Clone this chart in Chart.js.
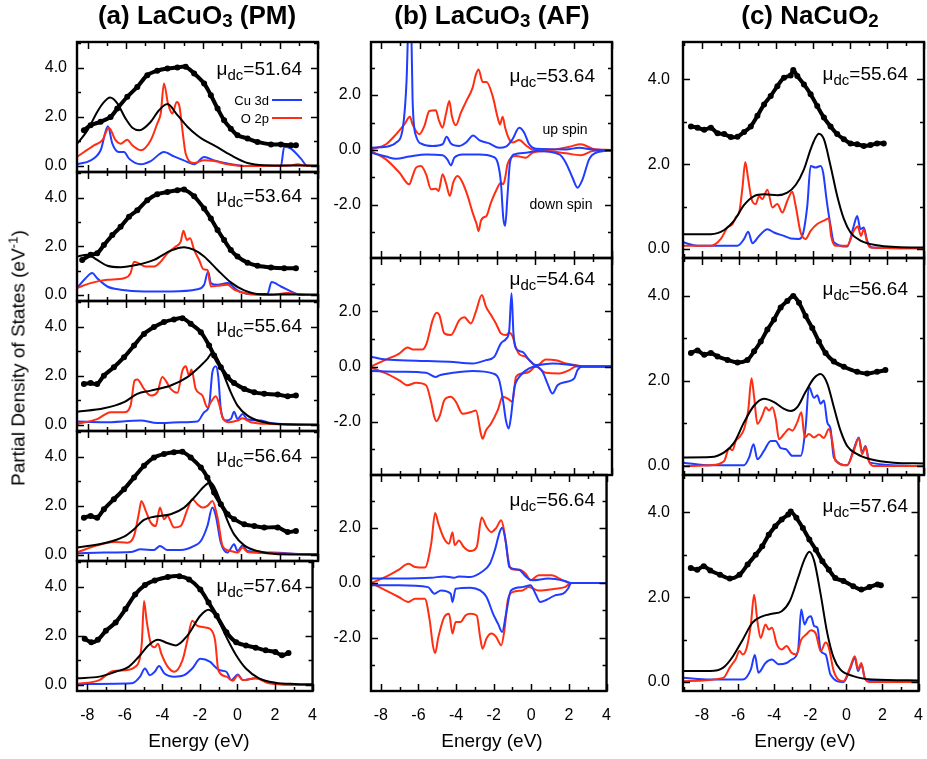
<!DOCTYPE html>
<html>
<head>
<meta charset="utf-8">
<script src="https://cdn.jsdelivr.net/npm/chart.js@4.4.1/dist/chart.umd.min.js"></script>
<style>
    html, body { margin: 0; padding: 0; background: #fff; overflow: hidden; }
    #page { position: relative; width: 927px; height: 759px; overflow: hidden; font-family: "Liberation Sans", Arial, sans-serif; color: #000; }
    .panel { position: absolute; }
    .panel canvas { display: block; }
    .txt { position: absolute; line-height: 1; white-space: nowrap; z-index: 5; }
    .title { font-size: 26px; font-weight: bold; transform: translateX(-50%); }
    .title sub { font-size: 0.72em; vertical-align: -3px; line-height: 0; }
    .mu { font-size: 19px; }
    .mu sub { font-size: 15px; vertical-align: -5px; line-height: 0; }
    .xlab { font-size: 19px; transform: translateX(-50%); }
    .ylab { font-size: 19px; transform: translate(-50%, -50%) rotate(-90deg); }
    .ylab sup { font-size: 0.7em; vertical-align: 7px; line-height: 0; }
    .leg { font-size: 13px; }
    .spin { font-size: 14px; transform: translate(-50%, -50%); }
    .swatch { position: absolute; height: 2px; width: 30px; z-index: 5; }
</style>
</head>
<body>
<div id="page">
    <div class="txt title" style="left:197px; top:2px;">(a) LaCuO<sub>3</sub> (PM)</div>
    <div class="txt title" style="left:492px; top:2px;">(b) LaCuO<sub>3</sub> (AF)</div>
    <div class="txt title" style="left:810px; top:2px;">(c) NaCuO<sub>2</sub></div>
    <div class="txt ylab" style="left:18px; top:358px;">Partial Density of States (eV<sup>-1</sup>)</div>
    <div class="txt xlab" style="left:199px; top:731px;">Energy (eV)</div>
    <div class="txt xlab" style="left:492px; top:731px;">Energy (eV)</div>
    <div class="txt xlab" style="left:805px; top:731px;">Energy (eV)</div>
    <div class="txt leg" style="right:658px; top:94px;">Cu 3d</div>
    <div class="swatch" style="left:272px; top:99px; background:#1f3cff;"></div>
    <div class="txt leg" style="right:658px; top:112px;">O 2p</div>
    <div class="swatch" style="left:272px; top:117px; background:#ff2d12;"></div>
    <div class="txt spin" style="left:565px; top:129px;">up spin</div>
    <div class="txt spin" style="left:561px; top:204px;">down spin</div>
</div>
<script>
// ---- (a) LaCuO3 PM : [energy, PDOS] ----
const expA1 = [[-8.19,1.46],[-7.84,1.66],[-7.32,1.8],[-6.8,2.0],[-6.45,2.34],[-5.93,2.82],[-5.41,3.22],[-4.89,3.7],[-4.37,3.88],[-3.84,3.97],[-3.32,4.01],[-2.89,4.04],[-2.45,3.77],[-1.93,3.36],[-1.58,2.88],[-1.23,2.34],[-0.89,1.86],[-0.54,1.52],[-0.19,1.25],[0.33,1.12],[0.85,0.98],[1.55,0.88],[2.07,0.88],[2.59,0.84],[2.85,0.84]];
const fitA1 = [[-8.55,0.9],[-8,1.46],[-7.5,2.2],[-7.15,2.6],[-6.83,2.79],[-6.45,2.55],[-6.02,1.93],[-5.67,1.56],[-5.29,1.46],[-4.71,1.8],[-4.28,2.27],[-3.84,2.52],[-3.32,2.07],[-2.8,1.6],[-2.3,1.25],[-1.93,1.05],[-1.41,0.84],[-0.54,0.44],[0.33,0.12],[1.2,0.03],[2.5,0.02],[4,0.02]];
const o2pA1 = [[-8.55,0.37],[-7.67,0.84],[-7.23,1.05],[-6.89,1.56],[-6.54,1.05],[-6.28,0.91],[-5.93,1.07],[-5.67,0.84],[-5.23,0.64],[-4.71,1.05],[-4.37,1.73],[-4.19,2.14],[-4.02,3.36],[-3.81,2.54],[-3.58,2.14],[-3.36,2.61],[-3.23,2.48],[-3.06,1.46],[-2.89,0.5],[-2.45,0.12],[-1.93,0.23],[-1.41,0.2],[-0.71,0.07],[0.16,0],[2.5,0.02],[2.94,0.07],[3.3,0.02],[4,0]];
const cu3dA1 = [[-8.55,0.07],[-7.84,0.23],[-7.32,0.64],[-6.94,1.62],[-6.71,0.91],[-6.37,0.57],[-6.1,0.57],[-5.84,0.3],[-5.23,0.07],[-4.71,0.2],[-4.02,0.57],[-3.5,0.39],[-2.99,0.23],[-2.45,0.07],[-1.93,0.37],[-1.41,0.23],[-0.71,0.1],[0.33,0],[2.07,0],[2.24,0.78],[2.59,0.71],[3.11,0.3],[3.46,0],[4,0]];

const expA2 = [[-8.28,1.44],[-7.84,1.65],[-7.5,1.71],[-7.15,2.05],[-6.71,2.46],[-6.28,2.8],[-5.84,3.21],[-5.41,3.48],[-4.89,3.89],[-4.37,4.14],[-3.84,4.23],[-3.32,4.3],[-2.97,4.33],[-2.45,4.05],[-1.93,3.55],[-1.58,3.14],[-1.23,2.67],[-0.89,2.26],[-0.54,1.85],[-0.19,1.58],[0.33,1.33],[0.85,1.2],[1.55,1.13],[2.24,1.1],[2.85,1.1]];
const fitA2 = [[-8.55,1.58],[-8,1.65],[-7.5,1.44],[-6.97,1.2],[-6.28,1.14],[-5.41,1.24],[-4.54,1.44],[-3.67,1.82],[-2.97,1.96],[-2.45,1.85],[-1.93,1.58],[-1.23,1.03],[-0.54,0.52],[0.16,0.19],[1.03,0.03],[2.5,0.02],[4,0.02]];
const o2pA2 = [[-8.55,0.29],[-7.84,0.49],[-6.97,0.63],[-6.1,0.69],[-5.76,0.9],[-5.58,1.37],[-5.41,1.33],[-4.97,1.17],[-4.54,1.17],[-4.19,1.37],[-3.84,1.71],[-3.41,1.99],[-3.15,2.19],[-3.01,2.64],[-2.83,2.26],[-2.66,2.33],[-2.45,1.85],[-2.19,1.44],[-1.97,1.06],[-1.76,1.03],[-1.58,0.35],[-1.23,0.38],[-0.71,0.42],[-0.37,0.22],[0.33,0.05],[1.55,0],[2.42,0.08],[3.29,0.01],[4,0]];
const cu3dA2 = [[-8.55,0.29],[-8.1,0.69],[-7.76,0.9],[-7.5,0.69],[-6.97,0.35],[-6.28,0.22],[-5.06,0.15],[-3.67,0.15],[-2.28,0.24],[-1.93,0.42],[-1.72,0.97],[-1.58,0.49],[-1.23,0.42],[-0.71,0.49],[-0.19,0.19],[0.52,0.03],[1.37,0.05],[1.58,0.53],[2.07,0.35],[2.59,0.15],[3.11,0],[4,0]];

const expA3 = [[-8.19,1.67],[-7.84,1.71],[-7.5,1.67],[-7.15,2.01],[-6.63,2.35],[-6.1,2.76],[-5.58,3.24],[-5.06,3.71],[-4.54,3.99],[-4.02,4.19],[-3.5,4.3],[-3.06,4.35],[-2.63,4.12],[-2.1,3.78],[-1.67,3.24],[-1.41,2.83],[-1.06,2.35],[-0.71,1.95],[-0.37,1.71],[0.16,1.47],[0.68,1.33],[1.2,1.27],[1.9,1.24],[2.42,1.17],[2.85,1.2]];
const fitA3 = [[-8.55,0.54],[-7.15,0.68],[-6.1,0.93],[-5.41,1.27],[-4.71,1.4],[-3.67,1.61],[-2.8,1.95],[-2.1,2.42],[-1.76,2.69],[-1.5,2.94],[-1.23,2.69],[-0.89,2.01],[-0.54,1.33],[-0.19,0.79],[0.33,0.38],[1.03,0.14],[1.9,0.04],[4,0.02]];
const o2pA3 = [[-8.55,0.04],[-7.5,0.24],[-6.8,0.52],[-6.1,0.52],[-5.76,0.79],[-5.55,1.81],[-5.41,1.85],[-5.06,1.47],[-4.71,1.2],[-4.37,1.33],[-4.11,1.95],[-3.93,1.81],[-3.67,1.47],[-3.32,1.31],[-3.06,2.22],[-2.89,2.39],[-2.71,2.01],[-2.59,2.26],[-2.37,1.47],[-2.02,1.2],[-1.76,0.72],[-1.58,0.93],[-1.32,1.17],[-1.15,0.86],[-0.97,0.31],[-0.63,0.11],[-0.19,0.18],[0.07,0.27],[0.5,0.11],[1.55,0.04],[4,0]];
const cu3dA3 = [[-8.55,0.14],[-7.15,0.11],[-5.23,0.18],[-4.37,0.08],[-3.15,0.11],[-2.28,0.14],[-1.93,0.52],[-1.67,0.79],[-1.5,2.15],[-1.32,2.39],[-1.2,2.01],[-1.06,0.65],[-0.8,0.18],[-0.54,0.24],[-0.37,0.54],[-0.19,0.24],[0.07,0.45],[0.33,0.22],[1.03,0.18],[1.55,0.08],[2.5,0.02],[4,0]];

const expA4 = [[-8.19,1.52],[-7.84,1.59],[-7.5,1.52],[-7.15,1.86],[-6.63,2.27],[-6.1,2.68],[-5.58,3.16],[-5.06,3.63],[-4.54,3.97],[-4.02,4.11],[-3.5,4.18],[-3.06,4.2],[-2.63,3.97],[-2.1,3.56],[-1.76,3.16],[-1.41,2.54],[-1.06,2.07],[-0.71,1.66],[-0.37,1.46],[0.16,1.25],[0.68,1.18],[1.2,1.12],[1.9,1.12],[2.42,0.94],[2.85,0.98]];
const fitA4 = [[-8.55,0.3],[-7.15,0.48],[-6.1,0.75],[-5.58,1.05],[-5.06,1.43],[-4.54,1.56],[-3.67,1.66],[-2.97,1.93],[-2.45,2.34],[-1.93,2.79],[-1.62,2.95],[-1.41,2.79],[-1.06,2.14],[-0.71,1.39],[-0.37,0.84],[0.16,0.39],[0.85,0.16],[1.9,0.03],[4,0.02]];
const o2pA4 = [[-8.55,0.1],[-7.5,0.39],[-6.63,0.53],[-5.93,0.5],[-5.58,0.78],[-5.32,1.73],[-5.2,2.2],[-4.97,1.8],[-4.71,1.32],[-4.45,1.18],[-4.23,1.93],[-4.02,1.46],[-3.84,1.59],[-3.5,1.12],[-3.15,1.18],[-2.8,1.86],[-2.54,2.27],[-2.28,2.07],[-2.02,1.93],[-1.76,2.0],[-1.5,2.2],[-1.23,1.52],[-0.97,0.37],[-0.54,0.16],[-0.19,0.1],[0.07,0.3],[0.33,0.12],[1.55,0.07],[3.29,0.03],[4,0.02]];
const cu3dA4 = [[-8.55,0.07],[-7.15,0.1],[-5.76,0.12],[-5.23,0.23],[-4.54,0.2],[-4.23,0.37],[-3.84,0.2],[-3.15,0.2],[-2.45,0.37],[-2.1,0.57],[-1.76,1.18],[-1.5,1.93],[-1.32,1.59],[-1.06,0.5],[-0.71,0.1],[-0.37,0.44],[-0.19,0.16],[0.07,0.39],[0.33,0.16],[1.55,0.1],[3.29,0.03],[4,0.02]];

const expA5 = [[-8.14,1.88],[-7.79,1.74],[-7.44,1.84],[-7.01,2.21],[-6.49,2.55],[-5.97,3.09],[-5.45,3.69],[-4.93,4.07],[-4.41,4.26],[-3.71,4.4],[-3.1,4.43],[-2.58,4.3],[-1.98,3.89],[-1.54,3.36],[-1.11,2.82],[-0.59,2.15],[-0.07,1.74],[0.45,1.61],[0.97,1.52],[1.5,1.41],[2.02,1.34],[2.37,1.21],[2.72,1.3]];
const fitA5 = [[-8.55,0.27],[-7.36,0.34],[-6.49,0.54],[-5.8,0.74],[-5.27,1.14],[-4.75,1.61],[-4.23,1.84],[-3.71,1.7],[-3.28,1.61],[-2.67,2.01],[-1.98,2.82],[-1.54,3.06],[-1.11,2.75],[-0.59,1.95],[-0.07,1.21],[0.45,0.67],[1.15,0.27],[2.02,0.09],[3.06,0.04],[4,0.03]];
const o2pA5 = [[-8.55,0.04],[-7.36,0.2],[-6.66,0.56],[-5.97,0.6],[-5.45,0.74],[-5.1,1.68],[-4.98,3.42],[-4.84,2.62],[-4.58,1.61],[-4.41,1.54],[-4.23,1.68],[-4.06,1.28],[-3.71,0.74],[-3.36,0.54],[-2.93,1.01],[-2.67,1.81],[-2.41,2.62],[-2.15,2.42],[-1.8,2.35],[-1.45,2.28],[-1.19,1.81],[-1.02,0.6],[-0.59,0.34],[-0.24,0.17],[0.02,0.4],[0.28,0.2],[0.97,0.27],[1.67,0.07],[3.06,0.01],[4,0]];
const cu3dA5 = [[-8.55,0.04],[-5.62,0.07],[-5.19,0.34],[-4.93,0.67],[-4.67,0.4],[-4.41,0.54],[-4.18,0.77],[-3.89,0.47],[-3.36,0.34],[-2.84,0.4],[-2.41,0.67],[-1.98,1.07],[-1.45,0.94],[-1.19,0.74],[-0.93,0.6],[-0.59,0.54],[-0.33,0.2],[0.02,0.43],[0.28,0.2],[0.97,0.27],[1.84,0.07],[3.06,0.01],[4,0]];

// ---- (b) LaCuO3 AF : up spin (+), down spin (-) ----
const cuUpB1 = [[-8.52,0.08],[-7.74,0.12],[-7.22,0.27],[-6.88,0.75],[-6.67,2.57],[-6.58,4.6],[-6.5,5.0],[-6.42,4.2],[-6.36,1.84],[-6.18,0.51],[-5.84,0.21],[-5.32,0.15],[-4.8,0.21],[-4.59,0.48],[-4.37,0.24],[-3.93,0.15],[-3.59,0.27],[-3.21,0.53],[-2.9,0.36],[-2.38,0.24],[-1.86,0.08],[-1.51,0.12],[-1.17,0.39],[-0.82,0.81],[-0.56,0.63],[-0.3,0.21],[0.05,0.05],[1.6,0.02],[2.29,0.08],[2.99,0.02],[4,0]];
const cuDnB1 = [[-8.52,-0.1],[-7.74,-0.24],[-7.22,-0.32],[-6.53,-0.24],[-5.66,-0.16],[-4.8,-0.19],[-4.54,-0.36],[-4.37,-0.56],[-4.19,-0.28],[-3.76,-0.16],[-2.9,-0.16],[-2.2,-0.24],[-1.94,-0.46],[-1.77,-1.19],[-1.65,-2.46],[-1.55,-2.76],[-1.43,-1.67],[-1.3,-0.46],[-1.08,-0.16],[-0.47,-0.1],[0.05,-0.04],[1.26,-0.16],[1.6,-0.46],[1.95,-1.01],[2.21,-1.37],[2.47,-1.07],[2.81,-0.34],[3.16,-0.1],[4,-0.02]];
const o2pUpB1 = [[-8.52,0.02],[-7.74,0.21],[-7.22,0.57],[-6.79,0.93],[-6.5,1.21],[-6.36,0.93],[-6.01,0.57],[-5.75,0.87],[-5.49,1.42],[-5.15,1.45],[-5.01,1.12],[-4.8,0.81],[-4.63,1.3],[-4.45,1.78],[-4.32,1.24],[-4.11,0.9],[-3.85,1.36],[-3.59,1.75],[-3.24,2.27],[-3.07,2.75],[-2.93,2.93],[-2.72,2.47],[-2.52,2.47],[-2.2,1.96],[-1.94,1.18],[-1.82,0.93],[-1.68,1.21],[-1.55,0.81],[-1.34,0.39],[-1.17,0.27],[-0.82,0.36],[-0.47,0.17],[-0.13,0.02],[0.91,0.02],[1.78,0.12],[2.38,0.21],[2.99,0.05],[4,0]];
const o2pDnB1 = [[-8.52,-0.04],[-7.74,-0.34],[-7.05,-0.82],[-6.53,-1.25],[-6.36,-0.95],[-6.18,-0.64],[-5.92,-0.58],[-5.66,-0.88],[-5.4,-1.43],[-5.15,-1.41],[-5.01,-1.49],[-4.8,-0.88],[-4.63,-1.19],[-4.42,-1.67],[-4.25,-1.19],[-4.02,-0.95],[-3.76,-1.19],[-3.5,-1.67],[-3.24,-2.28],[-3.03,-2.7],[-2.93,-2.95],[-2.81,-2.58],[-2.69,-2.46],[-2.52,-2.4],[-2.29,-1.92],[-2.03,-1.49],[-1.77,-1.19],[-1.65,-1.25],[-1.55,-1.01],[-1.43,-0.52],[-1.25,-0.28],[-0.99,-0.22],[-0.47,-0.28],[-0.13,-0.1],[0.56,-0.04],[1.6,-0.12],[2.38,-0.19],[2.99,-0.04],[4,0]];

const cuUpB2 = [[-8.52,0.35],[-7.74,0.25],[-6.18,0.21],[-4.45,0.17],[-3.24,0.11],[-2.55,0.23],[-2.12,0.35],[-1.77,0.84],[-1.5,1.0],[-1.34,1.3],[-1.22,2.65],[-1.12,1.2],[-0.99,0.65],[-0.65,0.53],[-0.3,0.23],[0.05,0.05],[0.91,0.11],[1.95,0.05],[2.47,0],[4,0]];
const cuDnB2 = [[-8.52,-0.16],[-7.05,-0.19],[-5.66,-0.23],[-5.15,-0.38],[-4.97,-0.32],[-4.28,-0.23],[-3.24,-0.16],[-2.2,-0.25],[-1.86,-0.5],[-1.65,-1.28],[-1.51,-1.95],[-1.37,-2.25],[-1.25,-1.83],[-1.08,-0.8],[-0.82,-0.38],[-0.3,-0.07],[0.05,0],[0.39,-0.19],[0.65,-0.62],[0.91,-0.98],[1.17,-0.68],[1.6,-0.56],[2.03,-0.44],[2.21,-0.13],[2.47,0],[4,0]];
const o2pUpB2 = [[-8.52,0],[-7.74,0.25],[-7.05,0.47],[-6.62,0.69],[-6.36,0.62],[-5.84,0.62],[-5.63,0.84],[-5.49,1.2],[-5.32,1.68],[-5.11,1.95],[-4.97,1.87],[-4.71,1.2],[-4.37,1.14],[-3.93,1.68],[-3.67,1.78],[-3.33,1.56],[-3.07,1.99],[-2.76,2.59],[-2.55,2.17],[-2.29,1.87],[-2.03,1.56],[-1.77,1.2],[-1.51,1.14],[-1.34,1.22],[-1.17,1.1],[-1.0,0.7],[-0.82,0.45],[-0.47,0.35],[-0.21,0.17],[0.05,0],[0.56,0.25],[1.08,0.23],[1.6,0.11],[2.12,0.05],[2.64,0],[4,0]];
const o2pDnB2 = [[-8.52,-0.04],[-7.74,-0.25],[-7.05,-0.5],[-6.62,-0.68],[-6.18,-0.59],[-5.66,-0.68],[-5.4,-1.28],[-5.23,-1.83],[-5.11,-1.98],[-4.94,-1.77],[-4.71,-1.22],[-4.37,-1.1],[-4.11,-1.28],[-3.76,-1.71],[-3.33,-1.65],[-3.07,-1.59],[-2.81,-2.44],[-2.72,-2.62],[-2.55,-2.32],[-2.29,-2.07],[-1.94,-1.59],[-1.68,-1.1],[-1.42,-1.16],[-1.17,-1.28],[-0.99,-0.38],[-0.65,-0.25],[-0.3,-0.19],[0.05,0],[0.56,-0.23],[1.26,-0.25],[1.78,-0.13],[2.12,0],[4,0]];

const cuUpB3 = [[-8.52,0.16],[-7.05,0.16],[-5.32,0.19],[-4.63,0.24],[-4.11,0.19],[-3.85,0.24],[-3.24,0.22],[-2.64,0.4],[-2.2,0.7],[-1.94,1.19],[-1.68,1.85],[-1.55,2.01],[-1.34,1.43],[-1.17,0.58],[-0.65,0.48],[-0.3,0.24],[0.05,0.1],[0.91,0.16],[1.78,0.07],[2.12,0],[4,0]];
const cuDnB3 = [[-8.52,-0.08],[-7.05,-0.08],[-5.49,-0.15],[-5.15,-0.39],[-4.8,-0.27],[-4.28,-0.39],[-4.19,-0.69],[-4.02,-0.21],[-3.24,-0.17],[-2.72,-0.27],[-2.38,-0.51],[-2.03,-1.12],[-1.77,-1.48],[-1.55,-1.78],[-1.34,-1.12],[-1.08,-0.27],[-0.47,-0.15],[-0.04,-0.08],[0.22,-0.39],[0.48,-0.69],[0.82,-0.61],[1.26,-0.45],[1.69,-0.39],[1.95,-0.21],[2.12,0],[4,0]];
const o2pUpB3 = [[-8.52,0],[-7.74,0.22],[-7.05,0.48],[-6.53,0.7],[-6.18,0.58],[-5.66,0.56],[-5.32,1.43],[-5.11,2.55],[-4.94,2.16],[-4.63,1.61],[-4.37,1.43],[-4.19,1.85],[-4.07,1.37],[-3.85,1.55],[-3.59,1.31],[-3.24,1.16],[-2.9,1.31],[-2.64,2.38],[-2.38,2.04],[-2.12,1.85],[-1.86,2.01],[-1.6,2.28],[-1.43,1.85],[-1.25,0.95],[-1.08,0.52],[-0.65,0.48],[-0.3,0.34],[-0.04,0.1],[0.39,0.28],[1.08,0.28],[1.6,0.12],[2.03,0],[4,0]];
const o2pDnB3 = [[-8.52,0],[-7.74,-0.27],[-7.05,-0.51],[-6.53,-0.69],[-6.18,-0.57],[-5.66,-0.57],[-5.4,-1.36],[-5.23,-2.27],[-5.11,-2.55],[-4.94,-1.97],[-4.63,-1.24],[-4.37,-1.12],[-4.19,-1.84],[-4.02,-1.42],[-3.76,-1.42],[-3.5,-1.18],[-3.24,-1.12],[-2.9,-1.18],[-2.72,-1.97],[-2.59,-2.39],[-2.38,-2.02],[-2.12,-1.84],[-1.86,-1.97],[-1.6,-2.27],[-1.43,-1.72],[-1.25,-0.63],[-0.99,-0.33],[-0.47,-0.27],[-0.13,-0.15],[0.39,-0.27],[1.26,-0.21],[1.78,-0.15],[2.12,0],[4,0]];

// ---- (c) NaCuO2 ----
const expC1 = [[-8.62,2.89],[-8.26,2.86],[-7.9,2.81],[-7.54,2.86],[-7.18,2.73],[-6.82,2.71],[-6.46,2.64],[-6.1,2.65],[-5.74,2.76],[-5.38,2.89],[-5.02,3.14],[-4.66,3.41],[-4.3,3.61],[-3.94,3.84],[-3.58,4.04],[-3.22,4.09],[-3.08,4.22],[-2.86,4.08],[-2.5,3.88],[-2.14,3.65],[-1.78,3.37],[-1.42,3.1],[-1.06,2.89],[-0.7,2.71],[-0.34,2.59],[0.02,2.49],[0.38,2.47],[0.74,2.43],[1.1,2.45],[1.46,2.49],[1.82,2.49]];
const fitC1 = [[-9.05,0.35],[-7.54,0.35],[-6.82,0.45],[-6.28,0.67],[-5.74,1.04],[-5.2,1.25],[-4.66,1.29],[-3.94,1.27],[-3.4,1.33],[-2.95,1.51],[-2.5,1.88],[-2.14,2.35],[-1.87,2.63],[-1.69,2.72],[-1.42,2.59],[-1.06,1.96],[-0.7,1.25],[-0.34,0.71],[0.02,0.39],[0.56,0.2],[1.46,0.09],[3.26,0.04],[4,0.04]];
const o2pC1 = [[-9.05,0.08],[-7.54,0.08],[-7.0,0.24],[-6.64,0.51],[-6.37,0.59],[-6.19,0.75],[-6.01,0.86],[-5.83,1.45],[-5.68,2.05],[-5.52,1.65],[-5.34,1.18],[-5.11,1.06],[-4.93,1.25],[-4.75,1.18],[-4.48,1.4],[-4.21,0.98],[-3.94,1.06],[-3.67,0.86],[-3.4,1.14],[-3.13,1.35],[-2.95,1.02],[-2.68,0.39],[-2.41,0.24],[-2.14,0.43],[-1.78,0.59],[-1.42,0.67],[-1.15,0.72],[-1.03,0.31],[-0.79,0.08],[-0.16,0.08],[0.2,0.43],[0.41,0.53],[0.59,0.31],[0.74,0.47],[0.92,0.16],[1.1,0.04],[4,0.02]];
const cu3dC1 = [[-9.05,0.16],[-8.26,0.08],[-6.1,0.08],[-5.74,0.24],[-5.52,0.41],[-5.29,0.14],[-4.93,0.31],[-4.48,0.47],[-4.12,0.39],[-3.58,0.31],[-3.22,0.25],[-2.77,0.24],[-2.59,0.31],[-2.32,1.02],[-2.14,1.96],[-1.87,1.92],[-1.6,1.96],[-1.46,1.8],[-1.28,1.18],[-1.06,0.55],[-0.88,0.16],[-0.16,0.06],[0.2,0.55],[0.38,0.78],[0.56,0.47],[0.74,0.51],[0.92,0.2],[1.19,0.04],[4,0.02]];

const expC2 = [[-8.62,2.65],[-8.26,2.71],[-7.9,2.61],[-7.54,2.65],[-7.18,2.57],[-6.64,2.49],[-6.1,2.43],[-5.56,2.49],[-5.2,2.69],[-4.84,2.92],[-4.48,3.2],[-4.12,3.44],[-3.76,3.72],[-3.4,3.87],[-3.08,3.99],[-2.77,3.83],[-2.41,3.52],[-2.05,3.24],[-1.69,2.92],[-1.33,2.65],[-0.88,2.45],[-0.34,2.33],[0.38,2.21],[0.92,2.17],[1.46,2.21],[1.91,2.25]];
const fitC2 = [[-9.05,0.2],[-7.54,0.21],[-6.82,0.32],[-6.28,0.55],[-5.74,1.03],[-5.2,1.42],[-4.66,1.58],[-4.12,1.5],[-3.58,1.34],[-3.22,1.29],[-2.86,1.38],[-2.41,1.74],[-1.96,2.06],[-1.6,2.16],[-1.24,1.94],[-0.88,1.38],[-0.52,0.83],[-0.16,0.47],[0.38,0.28],[1.1,0.16],[2.36,0.08],[4,0.06]];
const o2pC2 = [[-9.05,0],[-7.54,0.02],[-6.82,0.12],[-6.55,0.42],[-6.37,0.37],[-6.19,0.59],[-6.01,0.67],[-5.74,0.87],[-5.52,1.3],[-5.34,2.06],[-5.2,1.62],[-5.02,0.99],[-4.75,1.19],[-4.57,1.38],[-4.39,1.3],[-4.21,1.38],[-4.03,1.11],[-3.85,0.63],[-3.58,0.75],[-3.31,0.87],[-3.13,0.83],[-2.86,1.03],[-2.64,1.26],[-2.46,0.67],[-2.23,0.75],[-1.96,0.67],[-1.69,0.74],[-1.42,0.66],[-1.15,0.87],[-0.97,0.59],[-0.79,0.12],[-0.16,0.02],[0.2,0.36],[0.47,0.66],[0.65,0.28],[0.83,0.45],[1.01,0.12],[1.28,0],[4,0]];
const cu3dC2 = [[-9.05,0.08],[-7.54,0.02],[-5.74,0.02],[-5.47,0.2],[-5.23,0.51],[-5.02,0.16],[-4.66,0.36],[-4.3,0.59],[-4.03,0.59],[-3.76,0.42],[-3.49,0.4],[-3.13,0.24],[-2.68,0.24],[-2.41,0.91],[-2.23,1.86],[-1.96,1.6],[-1.78,1.66],[-1.6,1.46],[-1.42,1.54],[-1.24,1.03],[-1.06,0.87],[-0.88,0.2],[-0.16,0.02],[0.2,0.4],[0.47,0.67],[0.65,0.32],[0.83,0.47],[1.06,0.08],[4,0]];

const expC3 = [[-8.62,2.69],[-8.26,2.65],[-7.9,2.73],[-7.54,2.63],[-7.0,2.53],[-6.46,2.44],[-5.92,2.53],[-5.47,2.77],[-5.02,3.0],[-4.66,3.2],[-4.3,3.47],[-3.94,3.67],[-3.58,3.83],[-3.22,3.95],[-3.08,4.02],[-2.77,3.87],[-2.41,3.63],[-2.05,3.36],[-1.69,3.12],[-1.33,2.85],[-0.97,2.65],[-0.61,2.45],[-0.16,2.38],[0.38,2.26],[0.83,2.18],[1.28,2.24],[1.73,2.3],[1.91,2.28]];
const fitC3 = [[-9.05,0.26],[-7.54,0.26],[-6.82,0.34],[-6.28,0.61],[-5.74,1.0],[-5.2,1.4],[-4.66,1.55],[-4.12,1.61],[-3.58,1.67],[-3.13,1.91],[-2.68,2.45],[-2.32,2.89],[-2.05,3.07],[-1.78,2.85],[-1.42,2.06],[-1.06,1.16],[-0.7,0.57],[-0.34,0.3],[0.38,0.14],[1.46,0.06],[4,0.04]];
const o2pC3 = [[-9.05,0.02],[-6.82,0.1],[-6.46,0.34],[-6.28,0.45],[-6.14,0.53],[-5.92,0.73],[-5.74,0.65],[-5.52,0.81],[-5.29,1.36],[-5.11,2.06],[-4.93,1.44],[-4.75,1.04],[-4.48,1.36],[-4.3,1.24],[-4.12,1.28],[-3.85,0.89],[-3.58,0.77],[-3.31,0.85],[-3.04,0.69],[-2.77,0.65],[-2.5,1.0],[-2.23,1.12],[-1.96,1.22],[-1.69,1.14],[-1.42,0.73],[-1.15,0.93],[-0.97,0.81],[-0.7,0.26],[-0.16,0.02],[0.2,0.34],[0.47,0.61],[0.65,0.3],[0.83,0.45],[1.01,0.1],[1.3,0],[4,0]];
const cu3dC3 = [[-9.05,0.1],[-7.54,0.06],[-5.74,0.06],[-5.29,0.3],[-5.07,0.64],[-4.87,0.22],[-4.48,0.45],[-4.12,0.53],[-3.76,0.42],[-3.31,0.45],[-3.04,0.53],[-2.68,0.73],[-2.5,1.71],[-2.32,1.36],[-2.14,1.51],[-1.96,1.55],[-1.78,1.32],[-1.6,1.28],[-1.42,0.73],[-1.15,0.65],[-0.88,0.18],[-0.16,0],[0.2,0.3],[0.47,0.57],[0.65,0.26],[0.83,0.42],[1.06,0.06],[4,0]];

const muA = ['51.64', '53.64', '55.64', '56.64', '57.64'];
const muB = ['53.64', '54.64', '56.64'];
const muC = ['55.64', '56.64', '57.64'];

// ---- layout ----
const PLOT_W = 241;
const Y_AXIS_W = 70;
const PAD_TB = 26;   // room for the y-label overflow chart.js reserves
const colA = { left: 77, xMin: -8.55, yMin: -0.245, yMax: 5.05, pad: 10, tops: [42, 172, 301, 431, 561], heights: [130, 129, 130, 130, 130], muRight: 302, muBase: [75, 202, 332, 462, 592] };
const colB = { left: 371, xMin: -8.52, yMin: -3.93, yMax: 3.93, pad: 10, tops: [42, 258, 475], heights: [216, 217, 216], muRight: 595, muBase: [82, 285, 506] };
const colC = { left: 683, xMin: -9.05, yMin: -0.21, yMax: 4.88, pad: 13, tops: [42, 258, 475], heights: [216, 217, 216], muRight: 908, muBase: [80, 295, 512] };

const RED = '#ff2d12';
const BLUE = '#1f3cff';
const tickFont = { size: 16, family: '"Liberation Sans", Arial, sans-serif' };

Chart.defaults.font.family = '"Liberation Sans", Arial, sans-serif';
Chart.defaults.color = '#000';

const pts = arr => arr.map(([x, y]) => ({ x, y }));
const exp = arr => ({ data: pts(arr), borderColor: '#000', borderWidth: 4, pointRadius: 3, pointBorderWidth: 0, pointBackgroundColor: '#000', tension: 0.3 });
const fit = arr => ({ data: pts(arr), borderColor: '#000', borderWidth: 2, pointRadius: 0, cubicInterpolationMode: 'monotone' });
const o2p = arr => ({ data: pts(arr), borderColor: RED, borderWidth: 2, pointRadius: 0, cubicInterpolationMode: 'monotone' });
const cu3d = arr => ({ data: pts(arr), borderColor: BLUE, borderWidth: 2, pointRadius: 0, cubicInterpolationMode: 'monotone' });

// frame + inward ticks on all four sides
const frameTicks = {
    id: 'frameTicks',
    afterDatasetsDraw(chart) {
        const { ctx, chartArea: a, scales: { x, y } } = chart;
        ctx.save();
        ctx.strokeStyle = '#000';
        ctx.lineWidth = 1.5;
        ctx.beginPath();
        for (let v = Math.ceil(x.min); v <= x.max; v++) {
            const px = Math.round(x.getPixelForValue(v)) + 0.5;
            const len = v % 2 === 0 ? 7 : 4;
            ctx.moveTo(px, a.bottom); ctx.lineTo(px, a.bottom - len);
            ctx.moveTo(px, a.top); ctx.lineTo(px, a.top + len);
        }
        for (let v = Math.ceil(y.min); v <= y.max; v++) {
            const py = Math.round(y.getPixelForValue(v)) + 0.5;
            const len = v % 2 === 0 ? 7 : 4;
            ctx.moveTo(a.left, py); ctx.lineTo(a.left + len, py);
            ctx.moveTo(a.right, py); ctx.lineTo(a.right - len, py);
        }
        ctx.stroke();
        ctx.lineWidth = 2.4;
        ctx.strokeRect(a.left, a.top, a.right - a.left, a.bottom - a.top);
        ctx.restore();
    }
};

function panelOptions(col, isBottom) {
    return {
        responsive: false,
        animation: false,
        events: [],
        layout: { padding: { left: 0, right: 14, top: PAD_TB, bottom: isBottom ? 0 : PAD_TB } },
        plugins: { legend: { display: false }, tooltip: { enabled: false } },
        scales: {
            x: {
                type: 'linear',
                min: col.xMin,
                max: 4,
                display: isBottom,
                grid: { display: false, drawTicks: false },
                border: { display: false },
                ticks: {
                    stepSize: 1, autoSkip: false, includeBounds: false, maxRotation: 0,
                    padding: 15, color: '#000', font: tickFont,
                    callback: v => v % 2 === 0 ? String(v) : ''
                },
                afterFit: isBottom ? s => { s.height = 45; } : undefined
            },
            y: {
                type: 'linear',
                min: col.yMin,
                max: col.yMax,
                grid: { display: false, drawTicks: false },
                border: { display: false },
                ticks: {
                    stepSize: 1, autoSkip: false, includeBounds: false,
                    padding: col.pad, color: '#000', font: tickFont,
                    callback: v => v % 2 === 0 ? v.toFixed(1) : ''
                },
                afterFit: s => { s.width = Y_AXIS_W; }
            }
        }
    };
}

const page = document.getElementById('page');

function loadPanel(col, i, datasets, mu) {
    const isBottom = i === col.tops.length - 1;
    const w = Y_AXIS_W + PLOT_W + 14;
    const h = PAD_TB + col.heights[i] + (isBottom ? 45 : PAD_TB);
    const wrap = document.createElement('div');
    wrap.className = 'panel';
    wrap.style.left = (col.left - Y_AXIS_W) + 'px';
    wrap.style.top = (col.tops[i] - PAD_TB) + 'px';
    const cv = document.createElement('canvas');
    cv.width = w; cv.height = h;
    cv.style.width = w + 'px'; cv.style.height = h + 'px';
    wrap.appendChild(cv);
    page.appendChild(wrap);
    new Chart(cv, {
        type: 'line',
        data: { datasets: datasets },
        options: panelOptions(col, isBottom),
        plugins: [frameTicks]
    });

    const lab = document.createElement('div');
    lab.className = 'txt mu';
    lab.innerHTML = '\u03bc<sub>dc</sub>=' + mu;
    lab.style.right = (927 - col.muRight) + 'px';
    lab.style.top = (col.muBase[i] - 16) + 'px';
    page.appendChild(lab);
}

loadPanel(colA, 0, [exp(expA1), fit(fitA1), o2p(o2pA1), cu3d(cu3dA1)], muA[0]);
loadPanel(colA, 1, [exp(expA2), fit(fitA2), o2p(o2pA2), cu3d(cu3dA2)], muA[1]);
loadPanel(colA, 2, [exp(expA3), fit(fitA3), o2p(o2pA3), cu3d(cu3dA3)], muA[2]);
loadPanel(colA, 3, [exp(expA4), fit(fitA4), o2p(o2pA4), cu3d(cu3dA4)], muA[3]);
loadPanel(colA, 4, [exp(expA5), fit(fitA5), o2p(o2pA5), cu3d(cu3dA5)], muA[4]);

loadPanel(colB, 0, [cu3d(cuUpB1), cu3d(cuDnB1), o2p(o2pUpB1), o2p(o2pDnB1)], muB[0]);
loadPanel(colB, 1, [cu3d(cuUpB2), cu3d(cuDnB2), o2p(o2pUpB2), o2p(o2pDnB2)], muB[1]);
loadPanel(colB, 2, [cu3d(cuUpB3), cu3d(cuDnB3), o2p(o2pUpB3), o2p(o2pDnB3)], muB[2]);

loadPanel(colC, 0, [exp(expC1), fit(fitC1), o2p(o2pC1), cu3d(cu3dC1)], muC[0]);
loadPanel(colC, 1, [exp(expC2), fit(fitC2), o2p(o2pC2), cu3d(cu3dC2)], muC[1]);
loadPanel(colC, 2, [exp(expC3), fit(fitC3), o2p(o2pC3), cu3d(cu3dC3)], muC[2]);
</script>
</body>
</html>
